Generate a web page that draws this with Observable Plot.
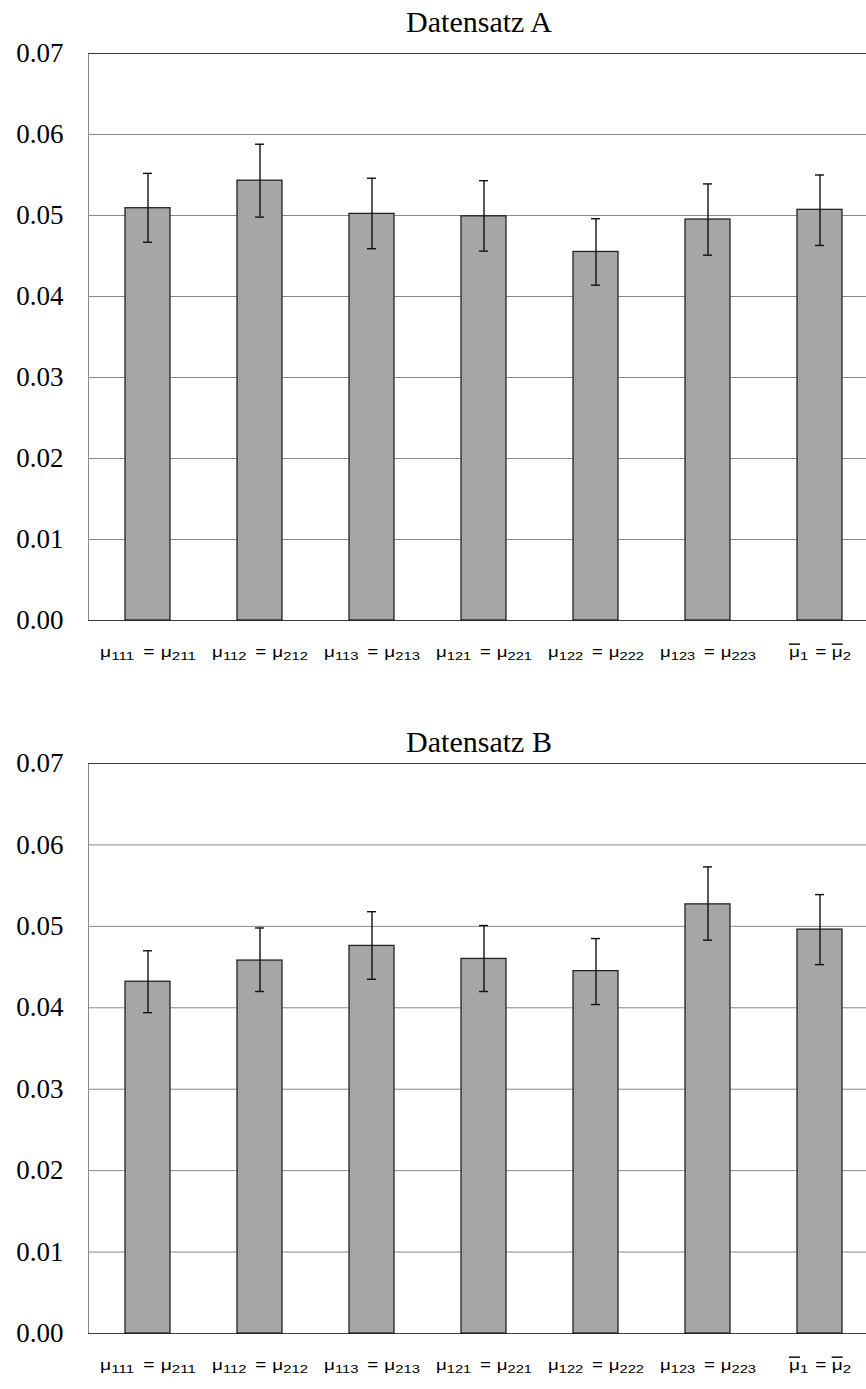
<!DOCTYPE html>
<html>
<head>
<meta charset="utf-8">
<script src="https://cdn.jsdelivr.net/npm/d3@7"></script>
<script src="https://cdn.jsdelivr.net/npm/@observablehq/plot@0.6"></script>
<style>
  html, body { margin: 0; padding: 0; background: #fff; overflow: hidden; width: 866px; height: 1389px; }
  #wrap { position: relative; width: 960px; height: 1389px; }
  .title { position: absolute; left: 0; width: 958px; text-align: center; font-family: "Liberation Serif", "Times New Roman", serif; font-size: 30px; line-height: 30px; color: #000; }
  .chart { position: absolute; left: 0; }
  .chart g[aria-label="y-axis tick label"] { font-family: "Liberation Serif", "Times New Roman", serif; }
  .chart g[aria-label="x-axis tick label"] { font-family: "Liberation Sans", Arial, sans-serif; }
</style>
</head>
<body>
<div id="wrap"></div>
<script>
const categories = ["μ111 = μ211", "μ112 = μ212", "μ113 = μ213", "μ121 = μ221", "μ122 = μ222", "μ123 = μ223", "μ\u03041 = μ\u03042"];
const yTicks = [0, 0.01, 0.02, 0.03, 0.04, 0.05, 0.06, 0.07];

const titleA = "Datensatz A";
const valuesA = [0.0509, 0.0543, 0.0502, 0.0499, 0.0455, 0.0495, 0.0507];
const lowA    = [0.0467, 0.0498, 0.0459, 0.0456, 0.0414, 0.0451, 0.0463];
const highA   = [0.0552, 0.0588, 0.0546, 0.0543, 0.0496, 0.0539, 0.0550];

const titleB = "Datensatz B";
const valuesB = [0.0432, 0.0458, 0.0476, 0.0460, 0.0445, 0.0527, 0.0496];
const lowB    = [0.0394, 0.0420, 0.0435, 0.0420, 0.0404, 0.0483, 0.0453];
const highB   = [0.0470, 0.0498, 0.0518, 0.0501, 0.0485, 0.0573, 0.0539];

const wrap = document.getElementById("wrap");
const NS = "http://www.w3.org/2000/svg";

function formatLabel(textEl, label) {
  textEl.textContent = "";
  const sides = label.split(" = ");
  const single = sides.every(s => s.replace(/\D/g, "").length === 1);
  sides.forEach((side, i) => {
    const m = side.match(/^μ(\u0304?)(\d+)$/);
    const bar = m && m[1] !== "";
    const digits = m ? m[2] : side;
    if (i > 0) {
      const eq = document.createElementNS(NS, "tspan");
      eq.textContent = "=";
      eq.setAttribute("dx", single ? 5 : 6.5);
      eq.setAttribute("dy", -2.5);
      textEl.appendChild(eq);
    }
    const mu = document.createElementNS(NS, "tspan");
    mu.textContent = "μ";
    if (i > 0) mu.setAttribute("dx", single ? 4 : 4.5);
    if (bar) mu.setAttribute("style", "text-decoration: overline;");
    textEl.appendChild(mu);
    const sub = document.createElementNS(NS, "tspan");
    sub.textContent = digits;
    sub.setAttribute("font-size", 11);
    sub.setAttribute("dy", 2.5);
    textEl.appendChild(sub);
  });
  textEl.setAttribute("textLength", single ? 62 : 96);
  textEl.setAttribute("lengthAdjust", "spacingAndGlyphs");
}

function makeChart(title, values, low, high, top, titleTop, plotH) {
  const data = categories.map((c, i) => ({cat: c, v: values[i], lo: low[i], hi: high[i]}));
  const t = document.createElement("div");
  t.className = "title";
  t.style.top = titleTop + "px";
  t.textContent = title;

  const chart = Plot.plot({
    width: 960,
    height: 53 + plotH + 70,
    marginTop: 53,
    marginBottom: 70,
    marginLeft: 88,
    marginRight: 81.5,
    style: {background: "transparent"},
    x: {domain: categories, paddingInner: 0.6, paddingOuter: 0.3, label: null},
    y: {domain: [0, 0.07], label: null},
    marks: [
      Plot.frame({stroke: "#8a8a8a"}),
      Plot.ruleY(yTicks.slice(1, -1), {stroke: "#8a8a8a", strokeWidth: 1}),
      Plot.ruleY([0, 0.07], {stroke: "#3a3a3a", strokeWidth: 1.2}),
      Plot.barY(data, {x: "cat", y: "v", fill: "#a6a6a6", stroke: "#222", strokeWidth: 1.3}),
      Plot.ruleX(data, {x: "cat", y1: "lo", y2: "hi", stroke: "#111", strokeWidth: 1.4}),
      Plot.tickY(data, {x: "cat", y: "hi", stroke: "#111", strokeWidth: 1.4, insetLeft: 18, insetRight: 18}),
      Plot.tickY(data, {x: "cat", y: "lo", stroke: "#111", strokeWidth: 1.4, insetLeft: 18, insetRight: 18}),
      Plot.axisY({ticks: yTicks, tickFormat: d3.format(".2f"), tickSize: 0, tickPadding: 25, fontSize: 27, fill: "#000", label: null}),
      Plot.axisX({tickSize: 0, tickPadding: 27, fontSize: 14, fill: "#000", label: null})
    ]
  });
  chart.classList.add("chart");
  chart.style.top = top + "px";
  wrap.appendChild(chart);
  wrap.appendChild(t);

  chart.querySelectorAll('g[aria-label="x-axis tick label"] text').forEach(el => {
    formatLabel(el, el.textContent);
  });
}

makeChart(titleA, valuesA, lowA, highA, 0, 7, 567);
makeChart(titleB, valuesB, lowB, highB, 710, 727, 570);
</script>
</body>
</html>
